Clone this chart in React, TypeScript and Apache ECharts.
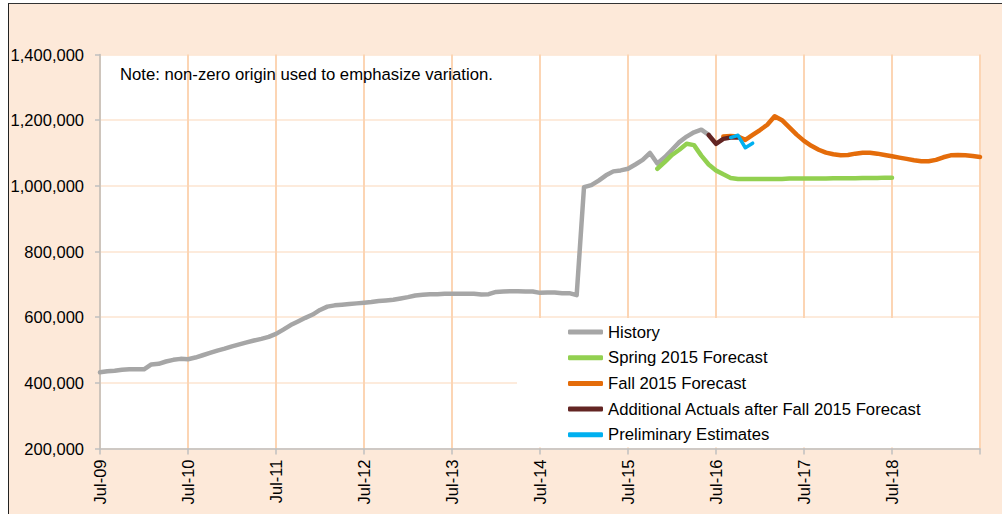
import React, { useEffect, useRef } from "react";
import * as echarts from "echarts";

// Month index 0 = Jul-09
const tickLabels = ["Jul-09", "Jul-10", "Jul-11", "Jul-12", "Jul-13", "Jul-14", "Jul-15", "Jul-16", "Jul-17", "Jul-18"];

const historyStart = 0;
const historyValues = [
  432000, 435000, 437000, 440000, 441000, 441000, 441000, 456000, 458000, 465000, 470000, 473000,
  472000, 477000, 484000, 491000, 498000, 504000, 511000, 517000, 523000, 529000, 534000, 540000,
  549000, 562000, 576000, 587000, 598000, 608000, 622000, 632000, 636000, 638000, 640000, 642000,
  644000, 646000, 649000, 651000, 653000, 657000, 661000, 666000, 668000, 670000, 670000, 671000,
  671000, 671000, 671000, 671000, 669000, 670000, 677000, 678000, 679000, 679000, 678000, 678000,
  674000, 675000, 675000, 673000, 673000, 667000, 996000, 1002000, 1016000, 1032000, 1044000, 1047000,
  1052000, 1065000, 1079000, 1100000, 1068000, 1087000, 1110000, 1133000, 1150000, 1163000, 1171000, 1155000,
];

const springStart = 76;
const springValues = [
  1052000, 1072000, 1094000, 1110000, 1128000, 1124000, 1092000, 1065000, 1047000, 1035000, 1024000, 1021000,
  1021000, 1021000, 1021000, 1021000, 1021000, 1021000, 1022000, 1022000, 1022000, 1022000, 1022000, 1022000,
  1023000, 1023000, 1023000, 1023000, 1024000, 1024000, 1024000, 1025000, 1025000,
];

const fallStart = 85;
const fallValues = [
  1150000, 1152000, 1150000, 1140000, 1155000, 1170000, 1186000, 1212000, 1200000, 1178000, 1156000, 1137000,
  1122000, 1110000, 1101000, 1096000, 1093000, 1094000, 1098000, 1101000, 1101000, 1098000, 1094000, 1090000,
  1086000, 1082000, 1078000, 1075000, 1075000, 1079000, 1087000, 1093000, 1094000, 1093000, 1091000, 1088000,
];

const actualsStart = 83;
const actualsValues = [1155000, 1128000, 1143000, 1147000, 1147000];

const prelimStart = 86;
const prelimValues = [1147000, 1154000, 1116000, 1130000];

const noteText = "Note: non-zero origin used to emphasize variation.";

const toPairs = (start: number, vals: number[]) => vals.map((v, i) => [start + i, v]);

const FONT = "'Liberation Sans', Arial, sans-serif";

export default function App() {
  const ref = useRef<HTMLDivElement>(null);

  useEffect(() => {
    if (!ref.current) return;
    const chart = echarts.init(ref.current, null, { renderer: "svg" });
    const lineSeries = (name: string, color: string, width: number, start: number, vals: number[]) => ({
      name,
      type: "line",
      data: toPairs(start, vals),
      showSymbol: false,
      symbol: "none",
      lineStyle: { color, width, cap: "round", join: "round" },
      itemStyle: { color },
      z: 3,
    });
    chart.setOption({
      animation: false,
      backgroundColor: "transparent",
      textStyle: { fontFamily: FONT },
      grid: {
        left: 100,
        top: 54.5,
        width: 880,
        height: 394,
        show: true,
        backgroundColor: "#ffffff",
        borderWidth: 0,
      },
      xAxis: {
        type: "value",
        min: 0,
        max: 120,
        interval: 12,
        axisLine: { show: true, lineStyle: { color: "#BFBFBF", width: 1.5 } },
        axisTick: { show: true, length: 6, lineStyle: { color: "#BFBFBF", width: 1.5 } },
        axisLabel: {
          rotate: 90,
          margin: 11,
          fontSize: 16.5,
          color: "#000",
          fontFamily: FONT,
          formatter: (v: number) => tickLabels[Math.round(v / 12)] ?? "",
        },
        splitLine: { show: true, lineStyle: { color: "#FCD5B4", width: 2 } },
      },
      yAxis: {
        type: "value",
        min: 200000,
        max: 1400000,
        interval: 200000,
        axisLine: { show: true, lineStyle: { color: "#BFBFBF", width: 1.5 } },
        axisTick: { show: true, length: 5, lineStyle: { color: "#BFBFBF", width: 1.5 } },
        axisLabel: {
          margin: 16,
          fontSize: 16.5,
          color: "#000",
          fontFamily: FONT,
          formatter: (v: number) => v.toLocaleString("en-US"),
        },
        splitLine: { show: true, lineStyle: { color: "#FCE4D0", width: 1.5 } },
      },
      legend: {
        orient: "vertical",
        left: 568,
        top: 322,
        padding: 0,
        itemWidth: 35,
        itemHeight: 5,
        itemGap: 5.7,
        icon: "roundRect",
        selectedMode: false,
        z: 60,
        textStyle: { fontSize: 16.7, lineHeight: 20, color: "#000", fontFamily: FONT },
        data: [
          "History",
          "Spring 2015 Forecast",
          "Fall 2015 Forecast",
          "Additional Actuals after Fall 2015 Forecast",
          "Preliminary Estimates",
        ],
      },
      graphic: [
        {
          type: "rect",
          z: 50,
          shape: { x: 517, y: 318, width: 462, height: 129.5 },
          style: { fill: "#ffffff" },
        },
        {
          type: "text",
          z: 50,
          x: 120,
          y: 74,
          style: {
            text: noteText,
            fontSize: 16.7,
            fontFamily: FONT,
            fill: "#000",
            verticalAlign: "middle",
          },
        },
      ],
      series: [
        lineSeries("History", "#A6A6A6", 4.5, historyStart, historyValues),
        lineSeries("Spring 2015 Forecast", "#92D050", 4.5, springStart, springValues),
        lineSeries("Fall 2015 Forecast", "#E46C0A", 4.5, fallStart, fallValues),
        lineSeries("Additional Actuals after Fall 2015 Forecast", "#632523", 4.5, actualsStart, actualsValues),
        lineSeries("Preliminary Estimates", "#00B0F0", 3.5, prelimStart, prelimValues),
      ],
    });
    return () => chart.dispose();
  }, []);

  return (
    <div style={{ position: "fixed", left: 0, top: 0, width: 1002, height: 514, background: "#ffffff", overflow: "hidden" }}>
      <div
        style={{
          position: "absolute",
          left: 7.5,
          top: 2.5,
          right: 0,
          bottom: 0,
          background: "#FDE9D9",
          borderLeft: "1.5px solid #222222",
          borderTop: "1.5px solid #333333",
        }}
      />
      <div ref={ref} style={{ position: "absolute", left: 0, top: 0, width: 1002, height: 514 }} />
    </div>
  );
}
